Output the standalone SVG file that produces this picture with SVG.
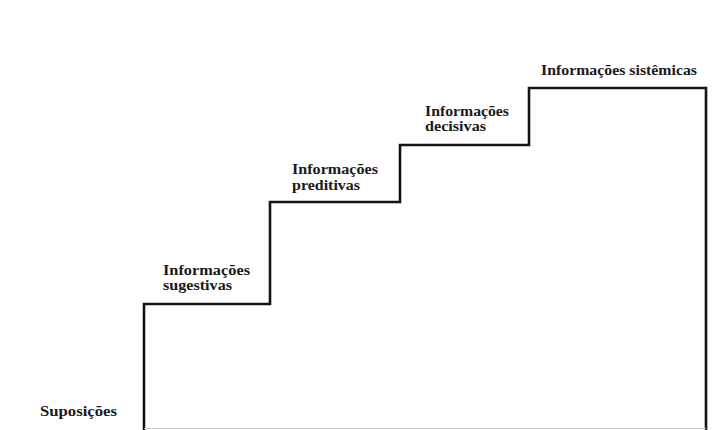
<svg xmlns="http://www.w3.org/2000/svg" width="714" height="430" viewBox="0 0 714 430">
  <style>
    .step { fill: none; stroke: #141414; stroke-width: 2.6; stroke-linejoin: miter; }
    .base { fill: none; stroke: #c8c8c8; stroke-width: 1; }
    .lbl { font-family: "Liberation Serif", "DejaVu Serif", serif; font-size: 14px; font-weight: bold; fill: #1a1a1a; }
  </style>
  <rect width="714" height="430" fill="#ffffff"/>

  <!-- staircase outline -->
  <g id="connectors">
    <path class="step" d="M144,430 V304 H270 V202 H400 V145 H529 V88 H706 V430"/>
    <line class="base" x1="144" y1="428.5" x2="706" y2="428.5"/>
  </g>

  <g id="suposicoes">
    <text class="lbl" x="40" y="416" textLength="77" lengthAdjust="spacingAndGlyphs">Suposições</text>
  </g>

  <g id="sugestivas">
    <text class="lbl" x="163" y="275" textLength="87" lengthAdjust="spacingAndGlyphs">Informações</text>
    <text class="lbl" x="163" y="290" textLength="69" lengthAdjust="spacingAndGlyphs">sugestivas</text>
  </g>

  <g id="preditivas">
    <text class="lbl" x="292" y="174" textLength="86" lengthAdjust="spacingAndGlyphs">Informações</text>
    <text class="lbl" x="292" y="190" textLength="68" lengthAdjust="spacingAndGlyphs">preditivas</text>
  </g>

  <g id="decisivas">
    <text class="lbl" x="425" y="116" textLength="84" lengthAdjust="spacingAndGlyphs">Informações</text>
    <text class="lbl" x="425" y="131" textLength="61" lengthAdjust="spacingAndGlyphs">decisivas</text>
  </g>

  <g id="sistemicas">
    <text class="lbl" x="541" y="75" textLength="156" lengthAdjust="spacingAndGlyphs">Informações  sistêmicas</text>
  </g>
</svg>
